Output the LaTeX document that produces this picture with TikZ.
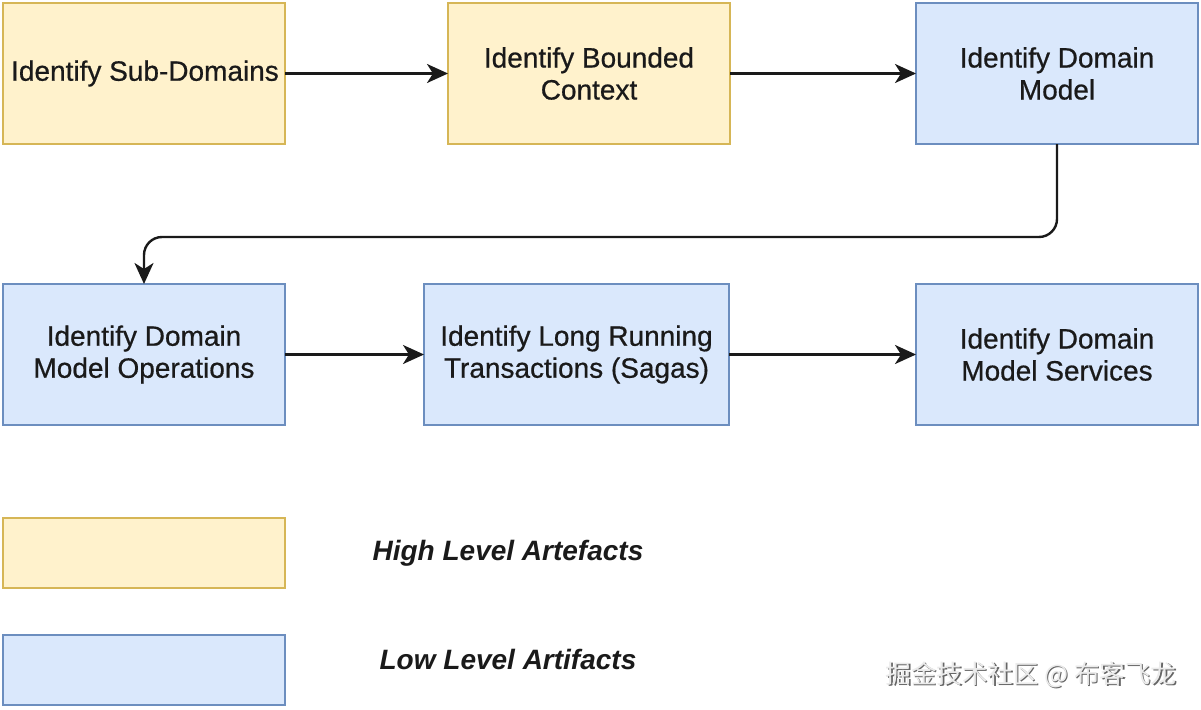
\documentclass[tikz,border=0pt]{standalone}
\usepackage{fontspec}
\setmainfont{Liberation Sans}
\newfontfamily\labelfont[FakeBold=0.6]{Liberation Sans}
\newfontfamily\cjkfont{Noto Sans CJK SC}
\usetikzlibrary{arrows.meta}
\definecolor{yfill}{HTML}{FFF2CC}
\definecolor{ydraw}{HTML}{D6B656}
\definecolor{bfill}{HTML}{DAE8FC}
\definecolor{bdraw}{HTML}{6C8EBF}
\definecolor{arrowc}{HTML}{1A1A1A}
\tikzset{
  highbox/.style={draw=ydraw, fill=yfill, line width=1.6pt},
  lowbox/.style={draw=bdraw, fill=bfill, line width=1.6pt},
  lbl/.style={font=\labelfont\fontsize{28}{32}\selectfont, align=center, text=arrowc},
  legtext/.style={font=\fontsize{28}{32}\selectfont\bfseries\itshape, text=arrowc},
  flow/.style={draw=arrowc, line width=2.4pt, -{Stealth[length=21pt,width=19pt,inset=6pt]}},
}
\begin{document}
\begin{tikzpicture}[x=1pt,y=-1pt]
\useasboundingbox (0,0) rectangle (1201,709);
% top row
\draw[highbox] (3,3) rectangle (285,144);
\node[lbl] (a) at (145,73.5) {Identify Sub-Domains};
\coordinate (aR) at (285,73.5);
\draw[highbox] (448,3) rectangle (730,144);
\node[lbl] (b) at (589,73.5) {Identify Bounded\\Context};
\coordinate (bL) at (448,73.5);
\coordinate (bR) at (730,73.5);
\draw[lowbox] (916,3) rectangle (1198,144);
\node[lbl] (c) at (1057,73.5) {Identify Domain\\Model};
\coordinate (cL) at (916,73.5);
\coordinate (cB) at (1057,144);
% second row
\draw[lowbox] (3,284) rectangle (285,425);
\node[lbl] (d) at (144,354.5) {Identify Domain\\Model Operations};
\coordinate (dT) at (144,284);
\coordinate (dR) at (285,354.5);
\draw[lowbox] (424,284) rectangle (729,425);
\node[lbl] (e) at (576.5,354.5) {Identify Long Running\\Transactions (Sagas)};
\coordinate (eL) at (424,354.5);
\coordinate (eR) at (729,354.5);
\draw[lowbox] (916,284) rectangle (1198,425);
\node[lbl] (f) at (1057,354.5) {Identify Domain\\Model Services};
\coordinate (fL) at (916,354.5);
% arrows
\draw[flow] (aR) -- (bL);
\draw[flow] (bR) -- (cL);
\draw[flow, rounded corners=18pt] (cB) -- (1057,237) -- (144,237) -- (dT);
\draw[flow] (dR) -- (eL);
\draw[flow] (eR) -- (fL);
% legend
\draw[highbox] (3,518) rectangle (285,588);
\node[legtext] (hl) at (508,553) {High Level Artefacts};
\draw[lowbox] (3,635) rectangle (285,705);
\node[legtext] (ll) at (508,659) {Low Level Artifacts};
% watermark
\node[font=\cjkfont\fontsize{25.5}{28}\selectfont, text=black!60, anchor=east] (wm0) at (1181.2,676.2) {掘金技术社区 @ 布客飞龙};
\node[font=\cjkfont\fontsize{25.5}{28}\selectfont, text=black!8, anchor=east] (wm) at (1180,675) {掘金技术社区 @ 布客飞龙};
\end{tikzpicture}
\end{document}
